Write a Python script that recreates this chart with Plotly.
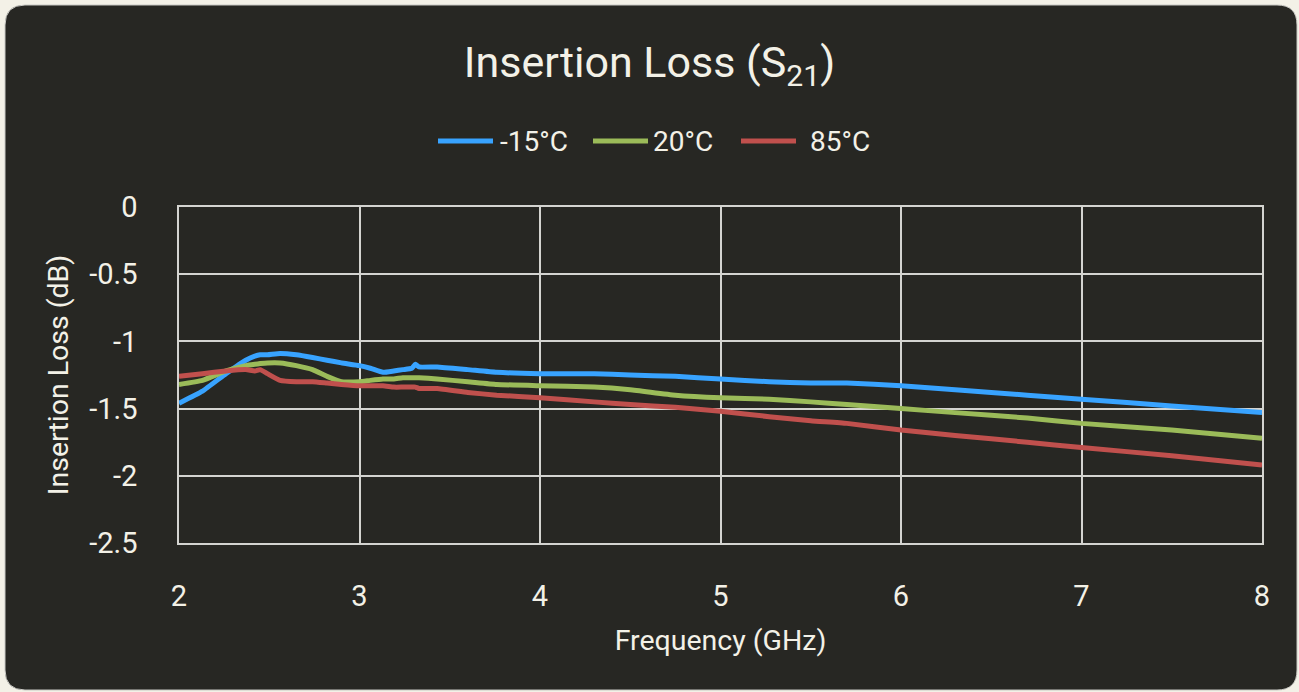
import plotly.graph_objects as go

freq_ghz = [2.0, 2.13, 2.26, 2.37, 2.42, 2.45, 2.49, 2.56, 2.65, 2.74, 2.82, 2.9, 3.0, 3.06, 3.13,
            3.19, 3.24, 3.29, 3.31, 3.33, 3.43, 3.6, 3.76, 4.0, 4.3, 4.5, 4.75, 5.0, 5.27, 5.5,
            5.7, 6.0, 6.3, 6.7, 7.0, 7.5, 8.0]
loss_m15 = [-1.46, -1.37, -1.24, -1.14, -1.11, -1.10, -1.10, -1.09, -1.10, -1.12, -1.14, -1.16, -1.18,
            -1.20, -1.23, -1.22, -1.21, -1.20, -1.17, -1.19, -1.19, -1.21, -1.23, -1.24, -1.24,
            -1.25, -1.26, -1.28, -1.30, -1.31, -1.31, -1.33, -1.36, -1.40, -1.43, -1.48, -1.53]
loss_20 = [-1.32, -1.29, -1.22, -1.18, -1.17, -1.165, -1.16, -1.16, -1.18, -1.21, -1.26, -1.30, -1.30,
           -1.29, -1.28, -1.28, -1.27, -1.27, -1.27, -1.27, -1.28, -1.30, -1.32, -1.33, -1.34,
           -1.36, -1.40, -1.42, -1.43, -1.45, -1.47, -1.50, -1.53, -1.57, -1.61, -1.66, -1.72]
loss_85 = [-1.26, -1.24, -1.22, -1.21, -1.22, -1.21, -1.24, -1.29, -1.30, -1.30, -1.31, -1.32, -1.33,
           -1.33, -1.33, -1.34, -1.34, -1.34, -1.34, -1.35, -1.35, -1.38, -1.40, -1.42, -1.45,
           -1.47, -1.49, -1.52, -1.56, -1.59, -1.61, -1.66, -1.70, -1.75, -1.79, -1.85, -1.92]

series_names = ["-15°C", "20°C", "85°C"]
series_colors = ["#38A3FF", "#9BBB59", "#C0504D"]
x_ticks = [2, 3, 4, 5, 6, 7, 8]
y_ticks = [0, -0.5, -1, -1.5, -2, -2.5]

W, H = 1299, 692
L, R, T, B = 179, 1262, 207, 543
TXT = "#F3F1E7"
GRID = "#D4D4D0"
FONT = "Roboto"


def px(xp):
    return (xp - L) / (R - L)


def py(yp):
    return (B - yp) / (B - T)


fig = go.Figure()
for name, vals, col in zip(series_names, [loss_m15, loss_20, loss_85], series_colors):
    fig.add_trace(go.Scatter(x=freq_ghz, y=vals, mode="lines", name=name, showlegend=False,
                             line=dict(color=col, width=5, shape="spline", smoothing=0.4)))

# rounded dark card behind the chart
x0, y0, x1, y1, r = 5, 5, 1297, 690, 20
pts = [
    ("M", [(x0 + r, y0)]),
    ("L", [(x1 - r, y0)]),
    ("Q", [(x1, y0), (x1, y0 + r)]),
    ("L", [(x1, y1 - r)]),
    ("Q", [(x1, y1), (x1 - r, y1)]),
    ("L", [(x0 + r, y1)]),
    ("Q", [(x0, y1), (x0, y1 - r)]),
    ("L", [(x0, y0 + r)]),
    ("Q", [(x0, y0), (x0 + r, y0)]),
]
path = ""
for cmd, ps in pts:
    path += cmd + " " + " ".join(f"{px(a):.5f},{py(b):.5f}" for a, b in ps) + " "
path += "Z"
fig.add_shape(type="path", path=path, xref="paper", yref="paper",
              fillcolor="#272723", line=dict(color="#C9C9C4", width=1), layer="below")

# legend (line samples + labels, centred above the plot)
leg_y = 141
leg_line_x = [438, 593, 741]
leg_text_x = [498, 651, 808]
for name, col, lx, tx in zip(series_names, series_colors, leg_line_x, leg_text_x):
    fig.add_shape(type="line", xref="paper", yref="paper",
                  x0=px(lx), x1=px(lx + 55), y0=py(leg_y), y1=py(leg_y),
                  line=dict(color=col, width=5))
    fig.add_annotation(text=name, xref="paper", yref="paper", x=px(tx), y=py(leg_y),
                       xanchor="left", yanchor="middle", showarrow=False,
                       font=dict(size=28, color=TXT, family=FONT))

fig.update_layout(
    width=W, height=H,
    margin=dict(l=L, r=W - R, t=T, b=H - B, autoexpand=False),
    paper_bgcolor="#F3F1E7",
    plot_bgcolor="rgba(0,0,0,0)",
    font=dict(family=FONT, color=TXT, size=24),
    title=dict(text="Insertion Loss (S<sub>21</sub>)", x=0.5, xref="container", xanchor="center",
               y=1 - 62 / H, yref="container", yanchor="middle",
               font=dict(size=43, color=TXT, family=FONT)),
    showlegend=False,
)
fig.update_xaxes(range=[2, 8], tickvals=x_ticks, ticktext=[str(v) for v in x_ticks],
                 showgrid=True, gridcolor=GRID, gridwidth=1.5, zeroline=False,
                 showline=True, linecolor=GRID, linewidth=1.5, mirror=True,
                 ticks="", ticklabelstandoff=26,
                 tickfont=dict(size=29, color=TXT, family=FONT),
                 title=dict(text="Frequency (GHz)", standoff=19,
                            font=dict(size=28.5, color=TXT, family=FONT)),
                 automargin=False)
fig.update_yaxes(range=[-2.5, 0], tickvals=y_ticks, ticktext=[f"{v:g}" for v in y_ticks],
                 showgrid=True, gridcolor=GRID, gridwidth=1.5, zeroline=False,
                 showline=True, linecolor=GRID, linewidth=1.5, mirror=True,
                 ticks="", ticklabelstandoff=34,
                 tickfont=dict(size=29, color=TXT, family=FONT),
                 title=dict(text="Insertion Loss (dB)", standoff=12,
                            font=dict(size=28.5, color=TXT, family=FONT)),
                 automargin=False)
fig.write_html("out.html", config={"displayModeBar": False},
               post_script="document.body.style.margin='0px';")
